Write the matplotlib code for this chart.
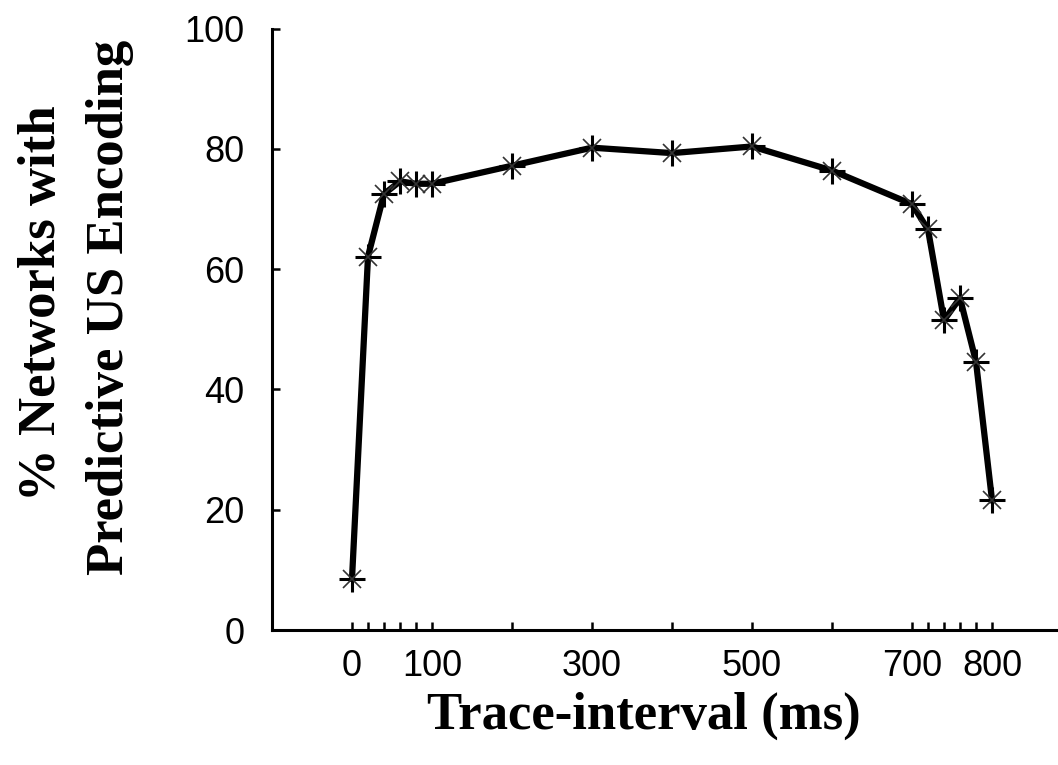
import matplotlib.pyplot as plt

# trace interval (ms) vs % networks with predictive US encoding
trace_ms = [0, 20, 40, 60, 80, 100, 200, 300, 400, 500, 600, 700, 720, 740, 760, 780, 800]
pct_networks = [8.5, 62.1, 72.5, 74.6, 74.2, 74.2, 77.2, 80.2, 79.3, 80.4, 76.4, 70.8,
                66.6, 51.5, 55.2, 44.6, 21.6]

x_ticks = [0, 20, 40, 60, 80, 100, 200, 300, 400, 500, 600, 700, 720, 740, 760, 780, 800]
x_labeled = [0, 100, 300, 500, 700, 800]
y_ticks = [0, 20, 40, 60, 80, 100]


def main():
    fig = plt.figure(figsize=(10.58, 7.65), dpi=100)
    ax = fig.add_axes([272 / 1058, 135 / 765, 800 / 1058, 601.4 / 765])

    ax.plot(trace_ms, pct_networks, color="black", linewidth=4.5, zorder=2)
    ax.plot(trace_ms, pct_networks, linestyle="none", marker="+", markersize=19,
            markeredgewidth=2.2, color="black", zorder=3)
    ax.plot(trace_ms, pct_networks, linestyle="none", marker="x", markersize=13,
            markeredgewidth=1.2, color="#333333", zorder=3)

    ax.set_xlim(-100, 900)
    ax.set_ylim(0, 100)
    ax.spines["top"].set_visible(False)
    ax.spines["right"].set_visible(False)
    for side in ["left", "bottom"]:
        ax.spines[side].set_linewidth(2.2)

    ax.set_xticks(x_ticks)
    ax.set_xticklabels([str(t) if t in x_labeled else "" for t in x_ticks])
    ax.set_yticks(y_ticks)
    ax.tick_params(direction="in", length=6, width=1.8, labelsize=26, color="black")
    ax.tick_params(axis="x", pad=14)
    ax.tick_params(axis="y", pad=20)
    for lbl in ax.get_xticklabels() + ax.get_yticklabels():
        lbl.set_family("Liberation Sans")

    serif = dict(family="Liberation Serif", fontweight="bold", fontsize=38)
    fig.text(644 / 1058, 1 - 716 / 765, "Trace-interval (ms)", ha="center", va="center", **serif)
    fig.text(42 / 1058, 1 - 303 / 765, "% Networks with", ha="center", va="center",
             rotation=90, **serif)
    fig.text(110 / 1058, 1 - 307 / 765, "Predictive US Encoding", ha="center", va="center",
             rotation=90, **serif)

    fig.savefig("out.png", dpi=100)


if __name__ == "__main__":
    main()
